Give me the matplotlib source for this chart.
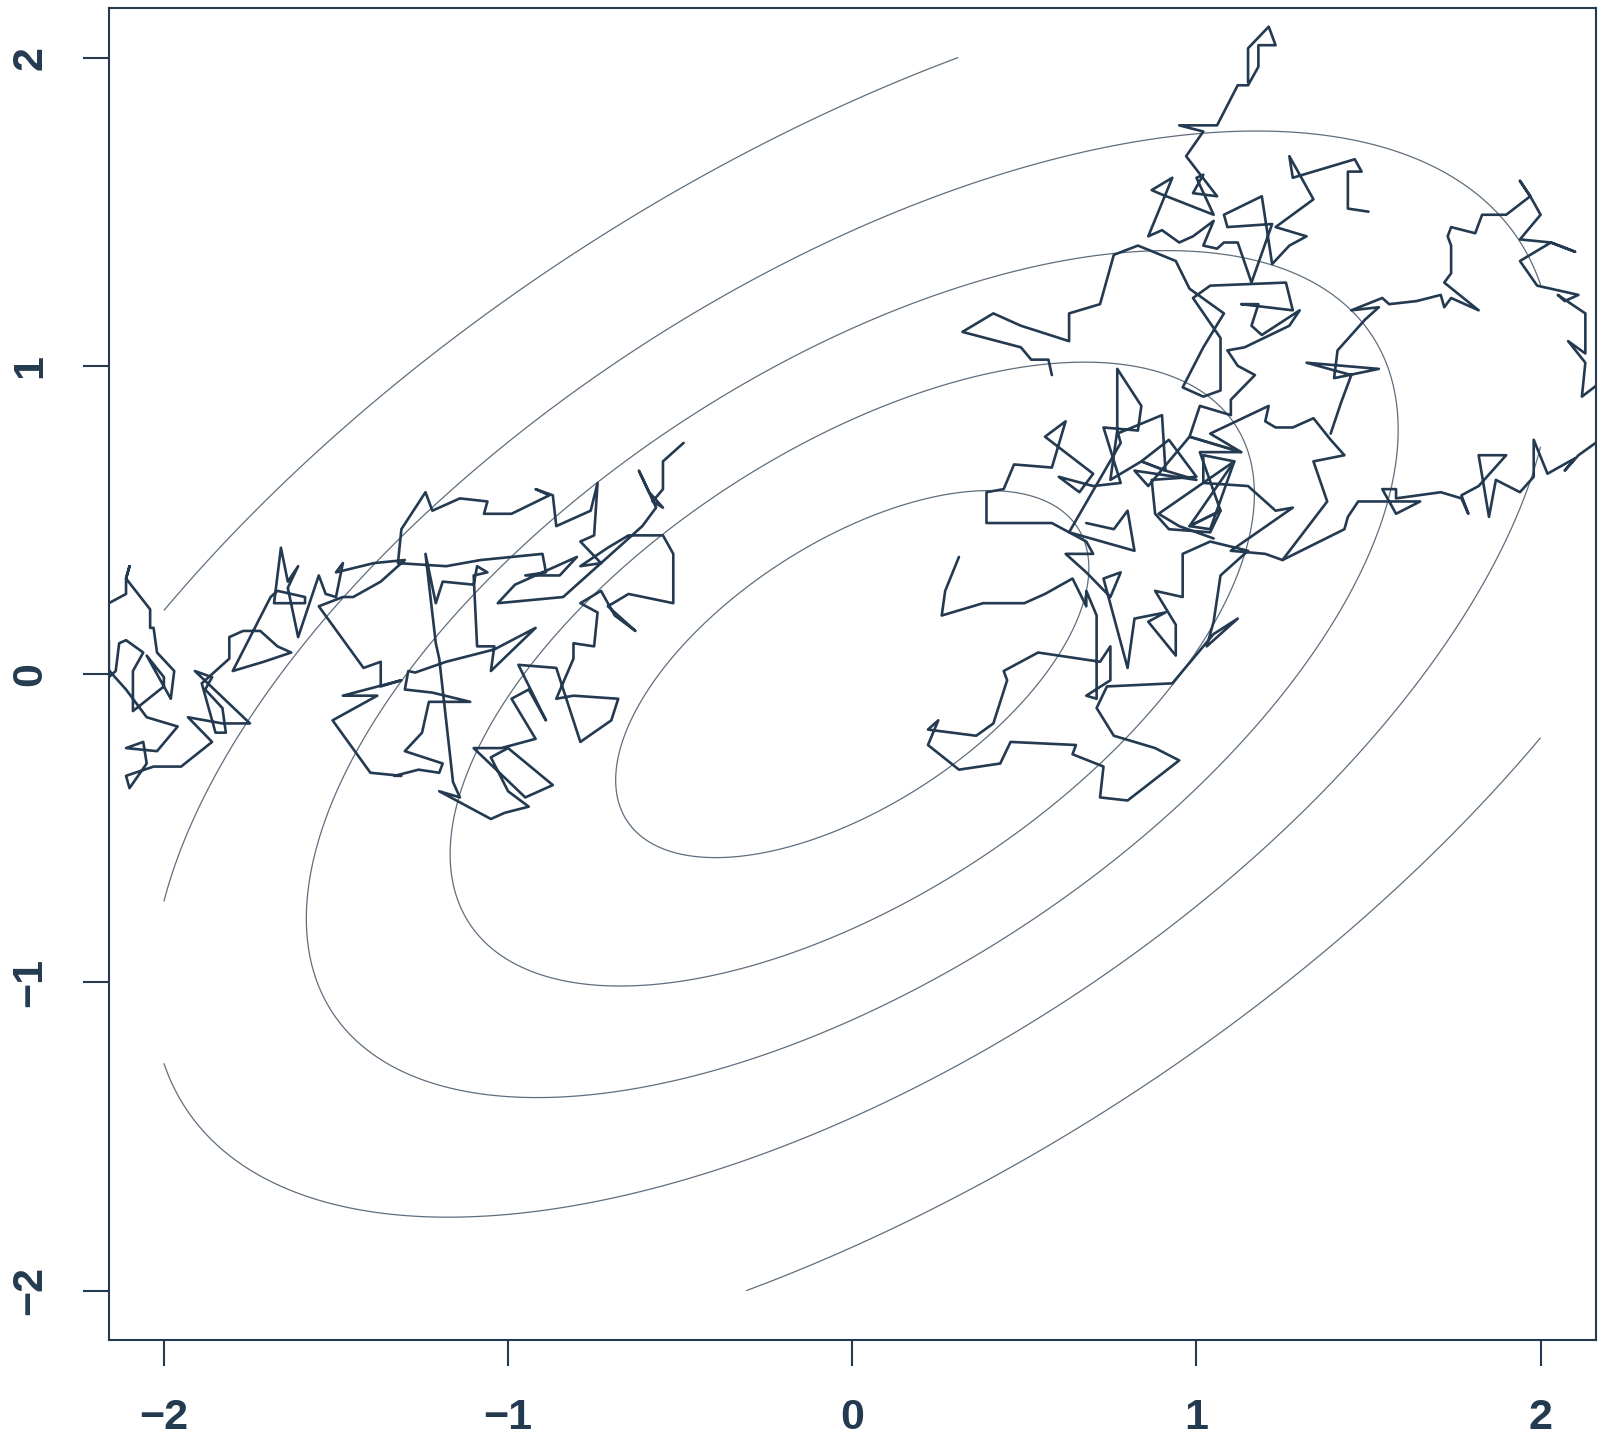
import numpy as np
import matplotlib
matplotlib.use("Agg")
import matplotlib.pyplot as plt

NAVY = "#243a51"
CONTOUR = "#5f6e7d"

# target density: bivariate normal, contoured on [-2, 2] x [-2, 2]
mean = [0.0, 0.0]
cov = [[2.0, 1.0], [1.0, 1.5]]
levels = [0.02, 0.04, 0.06, 0.08, 0.10]
grid_lo, grid_hi = -2.0, 2.0

ticks = [-2, -1, 0, 1, 2]
tick_labels = ["\u22122", "\u22121", "0", "1", "2"]

# sampler paths (x, y)
left_walk = [
    (-2.20, 0.26), (-2.16, 0.23), (-2.11, 0.26), (-2.11, 0.31), (-2.10, 0.35), (-2.11, 0.31),
    (-2.04, 0.21), (-2.04, 0.15), (-2.03, 0.15), (-2.02, 0.07), (-1.97, 0.01), (-1.98, -0.08),
    (-2.05, 0.06), (-2.00, -0.01), (-2.00, -0.04), (-2.09, -0.12), (-2.09, 0.01), (-2.06, 0.07),
    (-2.11, 0.11), (-2.13, 0.10), (-2.14, 0.01), (-2.16, -0.01), (-2.16, 0.11), (-2.19, 0.05),
    (-2.11, -0.05), (-2.05, -0.14), (-1.96, -0.17), (-2.02, -0.25), (-2.11, -0.24), (-2.06, -0.22),
    (-2.05, -0.29), (-2.10, -0.37), (-2.11, -0.33), (-2.03, -0.30), (-1.95, -0.30), (-1.86, -0.22),
    (-1.93, -0.14), (-1.83, -0.16), (-1.75, -0.16), (-1.91, 0.01), (-1.86, -0.01), (-1.88, -0.05),
    (-1.83, -0.11), (-1.82, -0.19), (-1.85, -0.19), (-1.89, -0.03), (-1.82, 0.04), (-1.81, 0.05),
    (-1.81, 0.12), (-1.77, 0.14), (-1.72, 0.14), (-1.67, 0.09), (-1.63, 0.07), (-1.71, 0.04),
    (-1.80, 0.01), (-1.69, 0.25), (-1.67, 0.27), (-1.59, 0.25), (-1.59, 0.23), (-1.68, 0.23),
    (-1.66, 0.41), (-1.64, 0.30), (-1.61, 0.35), (-1.64, 0.28), (-1.61, 0.12), (-1.55, 0.32),
    (-1.53, 0.26), (-1.50, 0.25), (-1.48, 0.36), (-1.50, 0.33), (-1.39, 0.36), (-1.30, 0.37),
    (-1.37, 0.30), (-1.45, 0.25), (-1.48, 0.25), (-1.55, 0.22), (-1.42, 0.02), (-1.37, 0.04),
    (-1.37, -0.04), (-1.31, -0.02), (-1.48, -0.07), (-1.38, -0.07), (-1.51, -0.15), (-1.40, -0.32),
    (-1.31, -0.33), (-1.33, -0.33), (-1.26, -0.31), (-1.20, -0.32), (-1.19, -0.29), (-1.30, -0.25),
    (-1.25, -0.19), (-1.23, -0.09), (-1.11, -0.09), (-1.22, -0.06), (-1.30, -0.05), (-1.29, 0.01),
    (-1.27, 0.005), (-1.18, 0.04), (-1.04, 0.08), (-0.92, 0.15), (-1.05, 0.01), (-1.04, 0.09),
    (-1.09, 0.09), (-1.10, 0.32), (-1.06, 0.33), (-1.09, 0.35), (-1.10, 0.29), (-1.19, 0.30),
    (-1.21, 0.23), (-1.24, 0.39), (-1.21, 0.10), (-1.20, 0.05), (-1.16, -0.35), (-1.14, -0.40),
    (-1.20, -0.38), (-1.05, -0.47), (-1.01, -0.45), (-0.94, -0.43), (-1.00, -0.38), (-1.05, -0.27),
    (-1.00, -0.24), (-0.87, -0.36), (-0.95, -0.40), (-1.10, -0.24), (-1.02, -0.24), (-0.92, -0.21),
    (-0.99, -0.08), (-0.94, -0.05), (-0.89, -0.15), (-0.97, 0.03), (-0.86, 0.02), (-0.79, -0.22),
    (-0.70, -0.15), (-0.68, -0.08), (-0.81, -0.07), (-0.86, -0.08), (-0.81, 0.05), (-0.81, 0.10),
    (-0.75, 0.09), (-0.74, 0.20), (-0.79, 0.23), (-0.73, 0.27), (-0.69, 0.19), (-0.63, 0.14),
    (-0.71, 0.22), (-0.65, 0.26), (-0.52, 0.23), (-0.52, 0.39), (-0.55, 0.45), (-0.65, 0.45),
    (-0.71, 0.41), (-0.79, 0.35), (-0.73, 0.36), (-0.79, 0.43), (-0.75, 0.45), (-0.74, 0.62),
    (-0.76, 0.53), (-0.86, 0.48), (-0.87, 0.58), (-0.92, 0.60), (-0.88, 0.58), (-0.99, 0.52),
    (-1.07, 0.52), (-1.06, 0.56), (-1.14, 0.57), (-1.22, 0.53), (-1.24, 0.59), (-1.31, 0.47),
    (-1.32, 0.36), (-1.18, 0.35), (-1.08, 0.37), (-0.90, 0.39), (-0.89, 0.33), (-0.95, 0.32),
    (-0.85, 0.32), (-0.80, 0.38), (-0.98, 0.29), (-1.03, 0.23), (-0.84, 0.25), (-0.61, 0.48),
    (-0.57, 0.54), (-0.62, 0.66), (-0.59, 0.59), (-0.55, 0.54), (-0.58, 0.56), (-0.55, 0.60),
    (-0.55, 0.69), (-0.49, 0.75),
]

right_walk = [
    (0.31, 0.38), (0.27, 0.27), (0.26, 0.19), (0.38, 0.23), (0.50, 0.23), (0.56, 0.26),
    (0.64, 0.31), (0.68, 0.22), (0.68, 0.27), (0.71, 0.19), (0.71, -0.08), (0.68, -0.07),
    (0.75, -0.02), (0.75, 0.09), (0.72, 0.04), (0.54, 0.07), (0.44, 0.01), (0.45, -0.02),
    (0.41, -0.16), (0.36, -0.20), (0.22, -0.18), (0.25, -0.15), (0.22, -0.23), (0.31, -0.31),
    (0.43, -0.29), (0.46, -0.22), (0.65, -0.23), (0.64, -0.26), (0.73, -0.30), (0.72, -0.40),
    (0.80, -0.41), (0.95, -0.28), (0.88, -0.24), (0.76, -0.20), (0.71, -0.11), (0.74, -0.04),
    (0.93, -0.03), (1.05, 0.13), (1.12, 0.18), (1.03, 0.09), (1.05, 0.17), (1.07, 0.32),
    (1.15, 0.40), (1.04, 0.43), (0.96, 0.39), (0.96, 0.25), (0.88, 0.27), (0.94, 0.16),
    (0.94, 0.06), (0.86, 0.17), (0.91, 0.20), (0.82, 0.18), (0.80, 0.02), (0.73, 0.31),
    (0.78, 0.33), (0.75, 0.25), (0.68, 0.33), (0.62, 0.39), (0.70, 0.39), (0.68, 0.43),
    (0.58, 0.49), (0.42, 0.49), (0.39, 0.49), (0.39, 0.59), (0.44, 0.60), (0.47, 0.68),
    (0.58, 0.67), (0.62, 0.82), (0.56, 0.77), (0.70, 0.65), (0.66, 0.59), (0.60, 0.64),
    (0.70, 0.61), (0.78, 0.62), (0.73, 0.80), (0.83, 0.79), (0.84, 0.87), (0.77, 0.99),
    (0.77, 0.78), (0.90, 0.84), (0.91, 0.66), (0.84, 0.69), (0.92, 0.76), (1.00, 0.64),
    (0.87, 0.63), (0.88, 0.52), (0.92, 0.47), (1.04, 0.46), (1.07, 0.53), (0.98, 0.48),
    (1.11, 0.69), (1.02, 0.71), (1.02, 0.62), (1.15, 0.61), (1.23, 0.53), (1.28, 0.54),
    (1.10, 0.40), (1.20, 0.39), (1.25, 0.37), (1.38, 0.56), (1.34, 0.69), (1.43, 0.71),
    (1.39, 0.76), (1.34, 0.83), (1.28, 0.80), (1.23, 0.80), (1.20, 0.82), (1.21, 0.87),
    (1.04, 0.78), (1.13, 0.72), (0.98, 0.77), (1.01, 0.87), (1.10, 0.84), (1.10, 0.89),
    (1.17, 0.97), (1.12, 1.00), (1.09, 1.05), (1.14, 1.06), (1.27, 1.13), (1.30, 1.18),
    (1.19, 1.10), (1.16, 1.13), (1.18, 1.20), (1.13, 1.20), (1.28, 1.18), (1.26, 1.27),
    (1.04, 1.26), (0.99, 1.22), (1.07, 1.09), (1.07, 0.92), (1.02, 0.90), (0.96, 0.93),
    (1.02, 1.06), (1.08, 1.17), (0.98, 1.25), (0.94, 1.34), (0.83, 1.39), (0.76, 1.36),
    (0.72, 1.20), (0.63, 1.17), (0.63, 1.08), (0.49, 1.13), (0.41, 1.17), (0.32, 1.11),
    (0.49, 1.06), (0.52, 1.02), (0.57, 1.02), (0.58, 0.97),
]

mid_walk = [
    (0.68, 0.49), (0.76, 0.47), (0.80, 0.53), (0.82, 0.40), (0.63, 0.46), (0.78, 0.75),
    (0.77, 0.79), (0.75, 0.63), (0.84, 0.69), (0.91, 0.66), (1.00, 0.63), (0.82, 0.66),
    (0.86, 0.61), (0.98, 0.77), (1.13, 0.72), (1.01, 0.72), (1.07, 0.53), (0.98, 0.48),
    (1.04, 0.47), (1.11, 0.69), (0.89, 0.52), (0.95, 0.48), (1.05, 0.44),
]

exit_walk = [
    (1.25, 0.37), (1.43, 0.47), (1.44, 0.51), (1.47, 0.56), (1.65, 0.56), (1.58, 0.52),
    (1.54, 0.60), (1.58, 0.60), (1.58, 0.57), (1.71, 0.59), (1.77, 0.57), (1.79, 0.52),
    (1.77, 0.58), (1.82, 0.61), (1.90, 0.71), (1.82, 0.71), (1.85, 0.51), (1.87, 0.63),
    (1.94, 0.59), (1.98, 0.64), (1.98, 0.76), (2.02, 0.65), (2.10, 0.70), (2.07, 0.66),
    (2.11, 0.71), (2.16, 0.75), (2.23, 0.79),
]

upper_walk = [
    (1.39, 0.78), (1.42, 0.88), (1.45, 0.97), (1.32, 1.01), (1.53, 0.99), (1.40, 0.96),
    (1.41, 1.05), (1.49, 1.15), (1.53, 1.19), (1.45, 1.18), (1.54, 1.22), (1.56, 1.20),
    (1.64, 1.21), (1.71, 1.23), (1.72, 1.19), (1.74, 1.22), (1.82, 1.18), (1.72, 1.27),
    (1.74, 1.30), (1.74, 1.39), (1.73, 1.42), (1.74, 1.45), (1.81, 1.43), (1.83, 1.49),
    (1.90, 1.49), (1.97, 1.55), (1.94, 1.60), (1.97, 1.55), (2.00, 1.49), (1.94, 1.41),
    (2.03, 1.40), (2.10, 1.37), (2.03, 1.40), (1.94, 1.34), (1.99, 1.26), (2.11, 1.23),
    (2.07, 1.21), (2.05, 1.23), (2.13, 1.17), (2.13, 1.04), (2.08, 1.08), (2.13, 1.01),
    (2.12, 0.90), (2.19, 0.96),
]

top_walk = [
    (1.50, 1.50), (1.44, 1.51), (1.44, 1.63), (1.48, 1.63), (1.46, 1.67), (1.28, 1.61),
    (1.27, 1.68), (1.34, 1.54), (1.23, 1.45), (1.32, 1.42), (1.27, 1.39), (1.22, 1.33),
    (1.19, 1.55), (1.08, 1.49), (1.09, 1.45), (1.22, 1.46), (1.16, 1.27), (1.12, 1.40),
    (1.08, 1.40), (1.06, 1.38), (1.02, 1.39), (1.05, 1.47), (0.99, 1.42), (0.95, 1.40),
    (0.90, 1.44), (0.86, 1.42), (0.93, 1.61), (0.87, 1.57), (0.89, 1.56), (1.05, 1.49),
    (1.00, 1.61), (1.02, 1.62), (0.99, 1.56), (1.06, 1.55), (0.97, 1.68), (1.02, 1.76),
    (0.95, 1.78), (1.06, 1.78), (1.12, 1.91), (1.15, 1.91), (1.18, 1.97), (1.18, 2.04),
    (1.23, 2.04), (1.21, 2.10), (1.15, 2.03), (1.15, 1.92),
]

fig = plt.figure(figsize=(16.1, 14.39), dpi=100)
ax = fig.add_axes([0.0676, 0.0688, 0.9235, 0.9255])

# density surface for the contour lines
g = np.linspace(grid_lo, grid_hi, 401)
X, Y = np.meshgrid(g, g)
S = np.array(cov)
Si = np.linalg.inv(S)
dx, dy = X - mean[0], Y - mean[1]
q = Si[0, 0] * dx**2 + 2 * Si[0, 1] * dx * dy + Si[1, 1] * dy**2
Z = np.exp(-0.5 * q) / (2 * np.pi * np.sqrt(np.linalg.det(S)))
ax.contour(X, Y, Z, levels=levels, colors=CONTOUR, linewidths=0.9)

for walk in [left_walk, right_walk, mid_walk, exit_walk, upper_walk, top_walk]:
    xs, ys = zip(*walk)
    ax.plot(xs, ys, color=NAVY, lw=1.9, solid_joinstyle="round", solid_capstyle="round")

ax.set_xlim(-2.16, 2.16)
ax.set_ylim(-2.16, 2.16)
ax.set_xticks(ticks)
ax.set_xticklabels(tick_labels)
ax.set_yticks(ticks)
ax.set_yticklabels(tick_labels, rotation=90, va="center")

for lab in ax.get_xticklabels() + ax.get_yticklabels():
    lab.set_fontfamily("Liberation Sans")
    lab.set_fontweight("bold")
    lab.set_fontsize(31)
    lab.set_color(NAVY)

ax.tick_params(direction="out", length=19, width=1.5, color=NAVY)
ax.tick_params(axis="x", pad=23)
ax.tick_params(axis="y", pad=23)
for sp in ax.spines.values():
    sp.set_color(NAVY)
    sp.set_linewidth(1.5)

fig.savefig("out.png", dpi=100)
